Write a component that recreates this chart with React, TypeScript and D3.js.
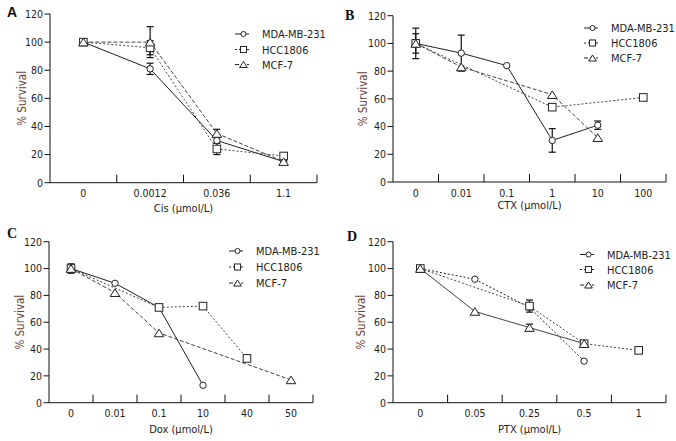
import React, { useEffect } from "react";
import * as d3 from "d3";

const seriesNames = ["MDA-MB-231", "HCC1806", "MCF-7"];
const yTicks = [0, 20, 40, 60, 80, 100, 120];

// Panel A – Cisplatin
const cisDoses = ["0", "0.0012", "0.036", "1.1"];
const cisMDA = [100, 81, 30, 15];
const cisHCC = [100, 96, 24, 19];
const cisMCF = [100, 100, 35, 15];
const cisErrMDA = [1, 4, 0, 1];
const cisErrHCC = [1, 5, 4, 2];
const cisErrMCF = [1, 11, 3, 1];

// Panel B – CTX
const ctxDoses = ["0", "0.01", "0.1", "1", "10", "100"];
const ctxMDA = [100, 93, 84, 30, 41, null];
const ctxHCC = [100, null, null, 54, null, 61];
const ctxMCF = [100, 83, null, 63, 32, null];
const ctxErrMDA = [7, 13, 0, 8.5, 3, 0];
const ctxErrHCC = [11, 0, 0, 0, 0, 0];
const ctxErrMCF = [0, 0, 0, 0, 0, 0];

// Panel C – Dox
const doxDoses = ["0", "0.01", "0.1", "10", "40", "50"];
const doxMDA = [100, 89, 71, 13, null, null];
const doxHCC = [100, null, 71, 72, 33, null];
const doxMCF = [100, 82, 52, null, null, 17];
const doxErrMDA = [0, 0, 0, 0, 0, 0];
const doxErrHCC = [3.5, 0, 0, 0, 0, 0];
const doxErrMCF = [0, 0, 0, 0, 0, 0];

// Panel D – PTX
const ptxDoses = ["0", "0.05", "0.25", "0.5", "1"];
const ptxMDA = [100, 92, 71, 31, null];
const ptxHCC = [100, null, 72, 44, 39];
const ptxMCF = [100, 68, 56, 44, null];
const ptxErrMDA = [0, 0, 0, 0, 0];
const ptxErrHCC = [1, 0, 4.5, 1, 0];
const ptxErrMCF = [0, 0, 2.5, 0, 0];

type Num = number | null;

interface PanelDef {
  letter: string;
  letterFont: string;
  letterX: number;
  letterY: number;
  left: number;
  right: number;
  top: number;
  bottom: number;
  doses: string[];
  values: Num[][];
  errors: number[][];
  dashes: string[];
  xLabel: string;
  xLabelY: number;
  yLabelX: number;
  legendX: number;
  legendYs: number[];
}

const FONT = "'DejaVu Sans Condensed', 'DejaVu Sans', Verdana, sans-serif";
const legendDashes = ["none", "2,2", "4,2"];

const panels: PanelDef[] = [
  {
    letter: "A", letterFont: "'Liberation Sans', Arial, sans-serif", letterX: 7, letterY: 17,
    left: 50, right: 317, top: 14, bottom: 182.7,
    doses: cisDoses, values: [cisMDA, cisHCC, cisMCF], errors: [cisErrMDA, cisErrHCC, cisErrMCF],
    dashes: ["none", "2,2", "4,2"],
    xLabel: "Cis (μmol/L)", xLabelY: 212, yLabelX: 22, legendX: 235, legendYs: [34, 49.5, 64.5],
  },
  {
    letter: "B", letterFont: "'Liberation Serif', 'Times New Roman', serif", letterX: 345, letterY: 19.5,
    left: 393, right: 666, top: 15.7, bottom: 182,
    doses: ctxDoses, values: [ctxMDA, ctxHCC, ctxMCF], errors: [ctxErrMDA, ctxErrHCC, ctxErrMCF],
    dashes: ["none", "2,2", "4,2"],
    xLabel: "CTX (μmol/L)", xLabelY: 209, yLabelX: 363, legendX: 584, legendYs: [28, 43, 58],
  },
  {
    letter: "C", letterFont: "'Liberation Serif', 'Times New Roman', serif", letterX: 7, letterY: 237.5,
    left: 49, right: 313, top: 241.7, bottom: 402.7,
    doses: doxDoses, values: [doxMDA, doxHCC, doxMCF], errors: [doxErrMDA, doxErrHCC, doxErrMCF],
    dashes: ["none", "2,2", "4,2"],
    xLabel: "Dox (μmol/L)", xLabelY: 433, yLabelX: 20, legendX: 229, legendYs: [251, 267, 283],
  },
  {
    letter: "D", letterFont: "'Liberation Serif', 'Times New Roman', serif", letterX: 347, letterY: 240.5,
    left: 393, right: 666, top: 241.7, bottom: 402.7,
    doses: ptxDoses, values: [ptxMDA, ptxHCC, ptxMCF], errors: [ptxErrMDA, ptxErrHCC, ptxErrMCF],
    dashes: ["2,2", "2,2", "none"],
    xLabel: "PTX (μmol/L)", xLabelY: 433, yLabelX: 361, legendX: 580, legendYs: [254.5, 269.5, 285],
  },
];

function Marker({ kind, x, y, small }: { kind: number; x: number; y: number; small?: boolean }) {
  const s = small ? 0.8 : 1;
  if (kind === 0) {
    return <circle cx={x} cy={y} r={3.2 * s} fill="white" stroke="#222" strokeWidth={1} />;
  }
  if (kind === 1) {
    const h = 3.8 * s;
    return <rect x={x - h} y={y - h} width={2 * h} height={2 * h} fill="white" stroke="#222" strokeWidth={1} />;
  }
  const w = 4.8 * s;
  const t = 3.8 * s;
  return (
    <path
      d={`M${x},${y - t}L${x + w},${y + t}L${x - w},${y + t}Z`}
      fill="white"
      stroke="#222"
      strokeWidth={1}
    />
  );
}

function Panel({ p }: { p: PanelDef }) {
  const x = d3.scaleBand<string>().domain(p.doses).range([p.left, p.right]).paddingInner(0).paddingOuter(0);
  const y = d3.scaleLinear().domain([0, 120]).range([p.bottom, p.top]);
  const bw = x.bandwidth();
  const cx = (d: string) => (x(d) as number) + bw / 2;
  const boundaries = p.doses.map((d) => (x(d) as number) + bw);

  const line = d3
    .line<{ d: string; v: number }>()
    .x((o) => cx(o.d))
    .y((o) => y(o.v));

  return (
    <g>
      <text x={p.letterX} y={p.letterY} fontFamily={p.letterFont} fontWeight="bold" fontSize={14} fill="#111">
        {p.letter}
      </text>
      {/* axes */}
      <line x1={p.left} x2={p.left} y1={p.bottom} y2={p.top} stroke="#111" strokeWidth={1} />
      <line x1={p.left} x2={p.right} y1={p.bottom} y2={p.bottom} stroke="#111" strokeWidth={1} />
      {yTicks.map((t) => (
        <g key={"yt" + t}>
          <line x1={p.left - 5.5} x2={p.left} y1={y(t)} y2={y(t)} stroke="#111" strokeWidth={1} />
          <text x={p.left - 7} y={y(t) + 3.8} textAnchor="end" fontFamily={FONT} fontSize={10.5} fill="#222">
            {t}
          </text>
        </g>
      ))}
      {boundaries.map((b, i) => (
        <line key={"xt" + i} x1={b} x2={b} y1={p.bottom} y2={p.bottom - 8} stroke="#111" strokeWidth={1} />
      ))}
      {p.doses.map((d) => (
        <text key={"xl" + d} x={cx(d)} y={p.bottom + 14.5} textAnchor="middle" fontFamily={FONT} fontSize={10.5} fill="#222">
          {d}
        </text>
      ))}
      <text x={(p.left + p.right) / 2} y={p.xLabelY} textAnchor="middle" fontFamily={FONT} fontSize={11} fill="#222">
        {p.xLabel}
      </text>
      <text
        transform={`translate(${p.yLabelX},${(p.top + p.bottom) / 2}) rotate(-90)`}
        textAnchor="middle"
        dy="0.35em"
        fontFamily={FONT}
        fontSize={11.5}
        fill="#6b4033"
      >
        % Survival
      </text>
      {/* lines */}
      {p.values.map((vals, si) => {
        const pts = p.doses
          .map((d, i) => ({ d, v: vals[i] }))
          .filter((o) => o.v !== null) as { d: string; v: number }[];
        return (
          <path
            key={"ln" + si}
            d={line(pts) || ""}
            fill="none"
            stroke={si === 0 ? "#222" : "#444"}
            strokeWidth={1}
            strokeDasharray={p.dashes[si] === "none" ? undefined : p.dashes[si]}
          />
        );
      })}
      {/* error bars */}
      {p.values.map((vals, si) =>
        vals.map((v, i) => {
          const e = p.errors[si][i];
          if (v === null || !e) return null;
          const xx = cx(p.doses[i]);
          return (
            <g key={`eb${si}-${i}`} stroke="#111" strokeWidth={1.2}>
              <line x1={xx} x2={xx} y1={y(v - e)} y2={y(v + e)} />
              <line x1={xx - 3.5} x2={xx + 3.5} y1={y(v - e)} y2={y(v - e)} />
              <line x1={xx - 3.5} x2={xx + 3.5} y1={y(v + e)} y2={y(v + e)} />
            </g>
          );
        })
      )}
      {/* markers */}
      {p.values.map((vals, si) =>
        vals.map((v, i) =>
          v === null ? null : <Marker key={`mk${si}-${i}`} kind={si} x={cx(p.doses[i])} y={y(v)} />
        )
      )}
      {/* legend */}
      {seriesNames.map((name, si) => (
        <g key={"lg" + si}>
          <line
            x1={p.legendX}
            x2={p.legendX + 14}
            y1={p.legendYs[si]}
            y2={p.legendYs[si]}
            stroke="#222"
            strokeWidth={1}
            strokeDasharray={legendDashes[si] === "none" ? undefined : legendDashes[si]}
          />
          <Marker kind={si} x={p.legendX + 8.5} y={p.legendYs[si]} small />
          <text x={p.legendX + 27} y={p.legendYs[si] + 4} fontFamily={FONT} fontSize={11} fill="#222">
            {name}
          </text>
        </g>
      ))}
    </g>
  );
}

export default function App() {
  useEffect(() => {
    document.body.style.margin = "0";
  }, []);
  return (
    <svg
      width={676}
      height={441}
      viewBox="0 0 676 441"
      style={{ position: "absolute", left: 0, top: 0, background: "white" }}
    >
      <rect x={0} y={0} width={676} height={441} fill="white" />
      {panels.map((p) => (
        <Panel key={p.letter} p={p} />
      ))}
    </svg>
  );
}
